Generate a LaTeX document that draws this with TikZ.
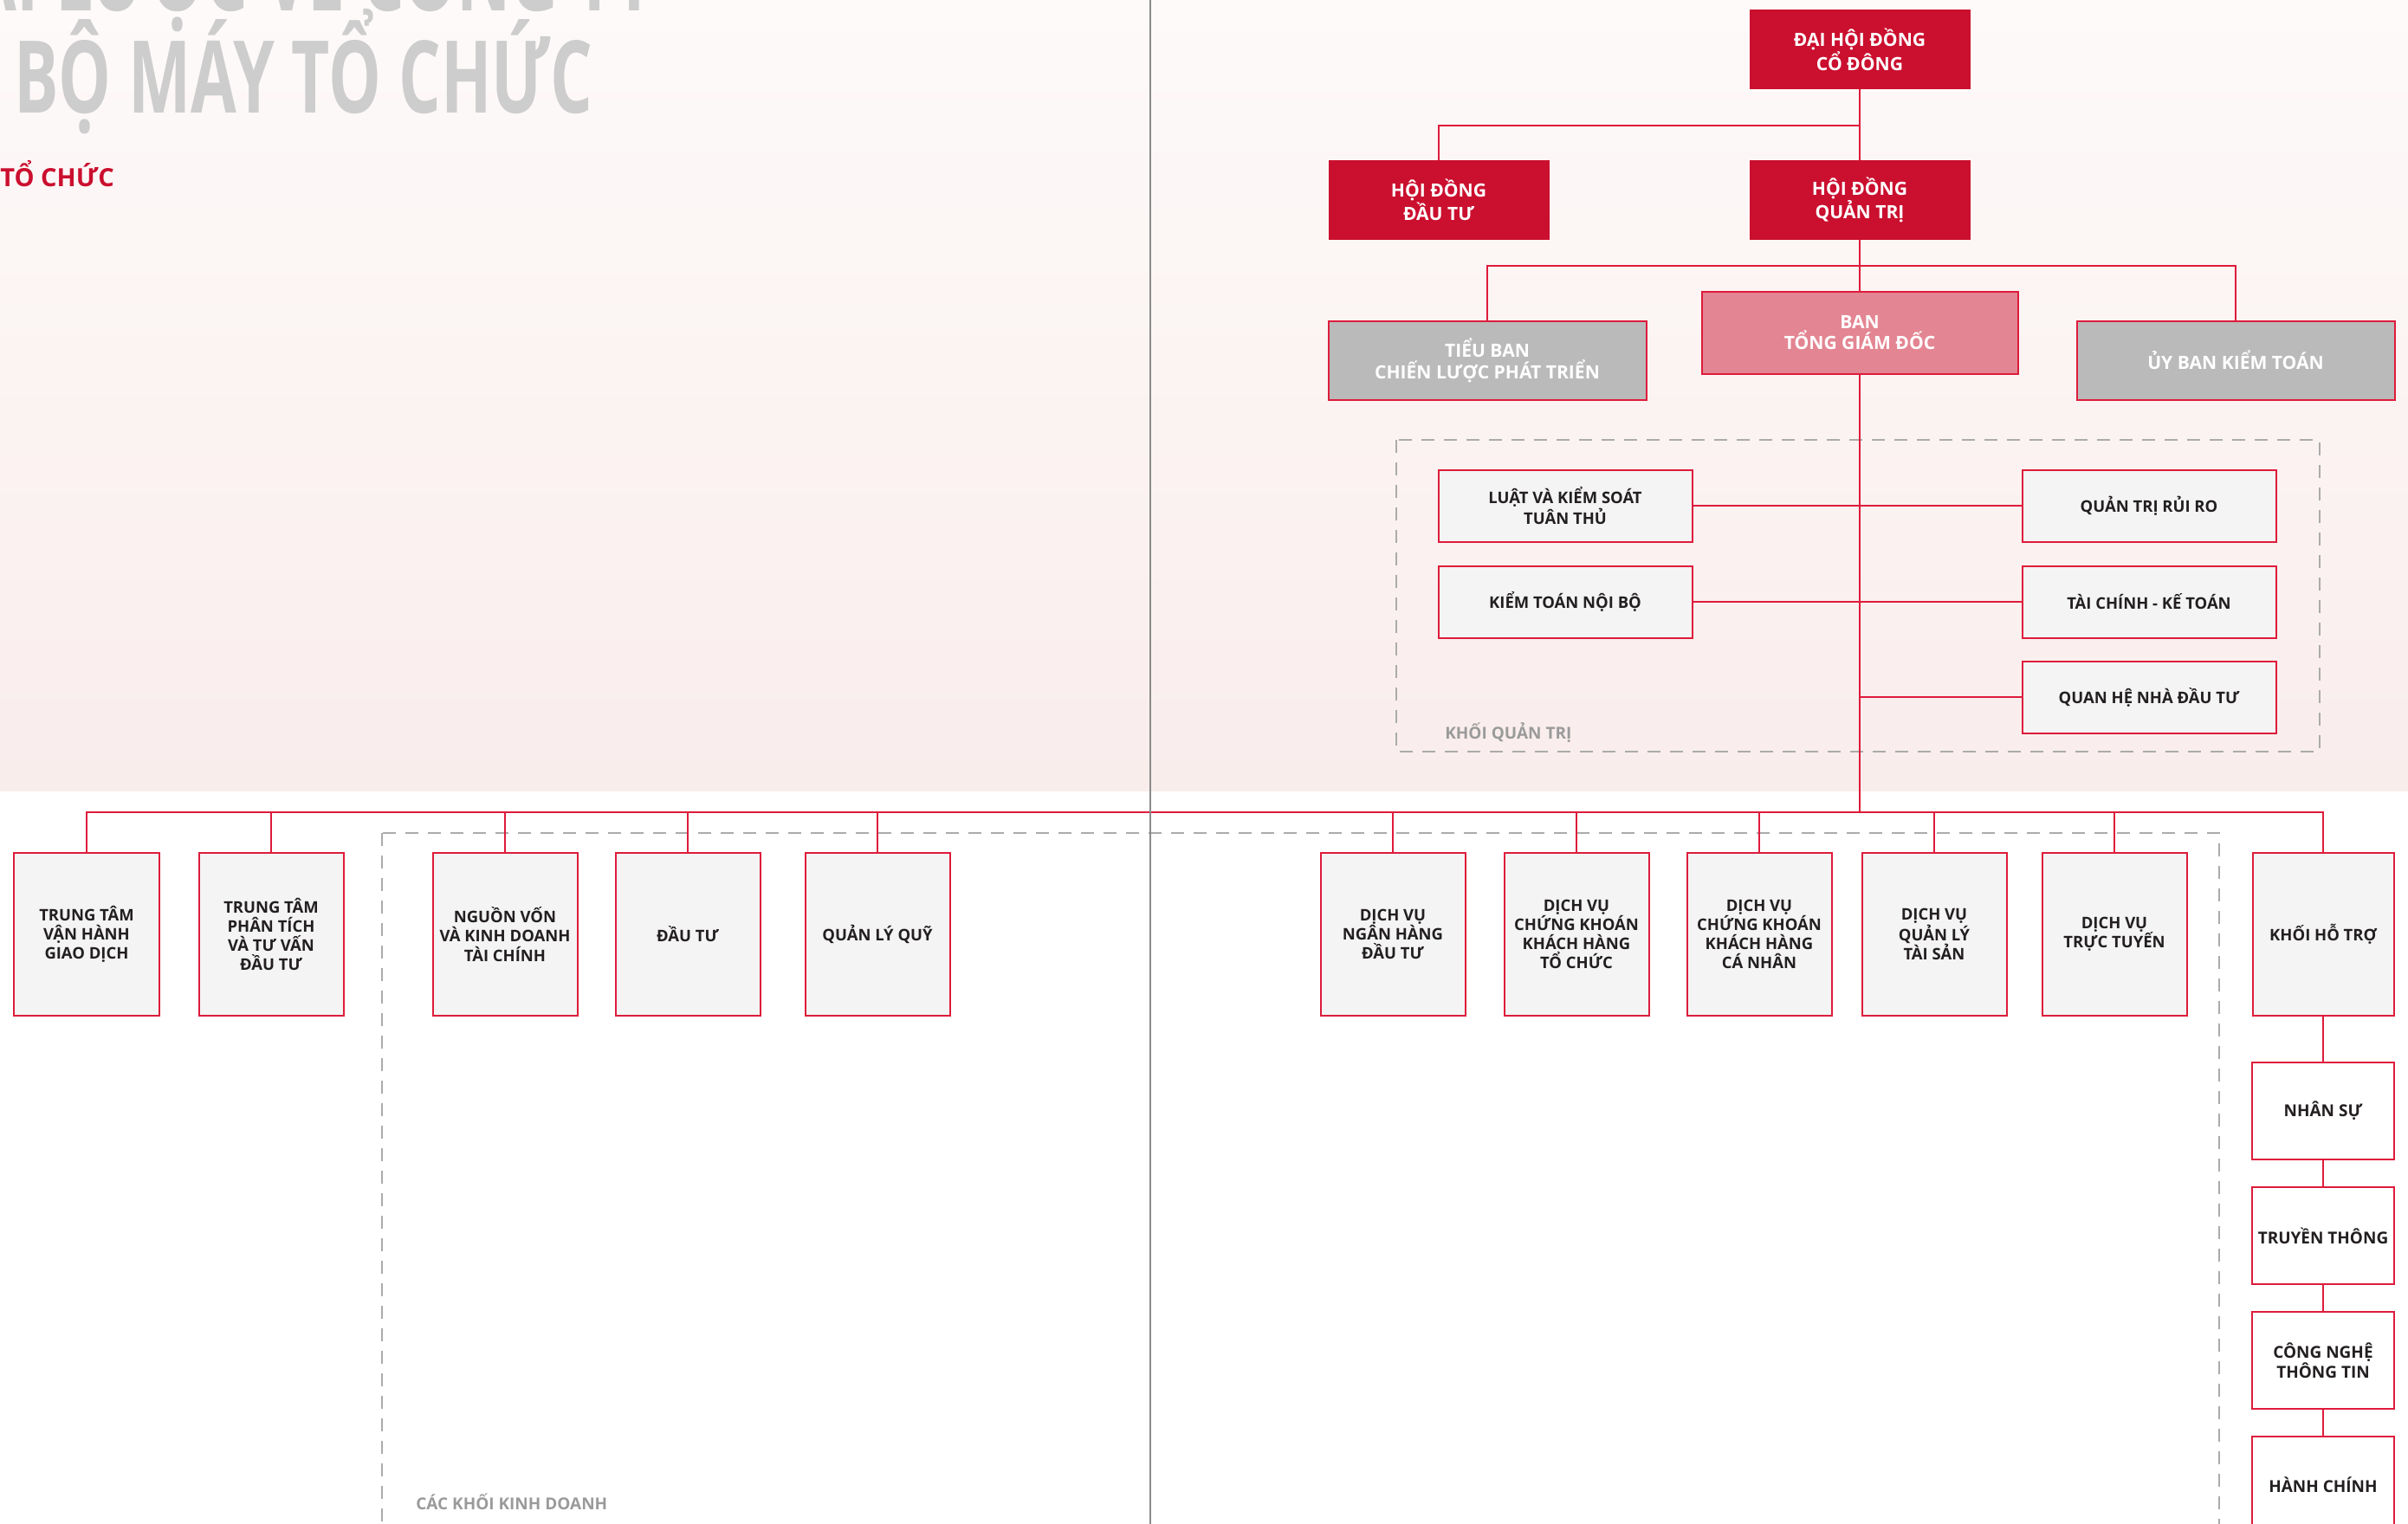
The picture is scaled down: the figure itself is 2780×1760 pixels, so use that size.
\documentclass[tikz,border=0pt]{standalone}
\usepackage{fontspec}
\setmainfont{Open Sans}
\newfontfamily\titlefont[FakeStretch=0.66]{Open Sans}
\usepackage{xcolor}
\usepackage{tikz}
\usetikzlibrary{positioning}

\definecolor{bvred}{HTML}{CB0F2F}
\definecolor{bvline}{HTML}{DE1B3B}
\definecolor{bvpink}{HTML}{E38592}
\definecolor{bvgray}{HTML}{BABABA}
\definecolor{bvlight}{HTML}{F3F4F3}
\definecolor{bvtext}{HTML}{231F20}
\definecolor{bvdash}{HTML}{ABABAB}
\definecolor{bvtitle}{HTML}{CDCDCD}
\definecolor{bvlabel}{HTML}{9A9A9A}
\definecolor{bvsep}{HTML}{8A8A8A}
\definecolor{bvbgtop}{HTML}{FDFAF9}
\definecolor{bvbgbot}{HTML}{F9EDEC}

\begin{document}
\begin{tikzpicture}[
    x=0.2mm, y=-0.2mm,
    redbox/.style={fill=bvred, text=white, align=center, inner sep=0pt,
      minimum width=51mm, minimum height=18.4mm, font=\bfseries\fontsize{12}{14}\selectfont},
    pinkbox/.style={redbox, fill=bvpink, draw=bvline, line width=0.4mm, minimum width=73mm, minimum height=19mm},
    graybox/.style={redbox, fill=bvgray, draw=bvline, line width=0.4mm, minimum width=73.4mm, minimum height=18.2mm},
    govbox/.style={draw=bvline, line width=0.4mm, fill=bvlight, text=bvtext, align=center, inner sep=0pt,
      minimum width=58.6mm, minimum height=16.6mm, font=\bfseries\fontsize{10.5}{12.6}\selectfont},
    unitbox/.style={govbox, minimum width=33.4mm, minimum height=37.6mm},
    supbox/.style={govbox, fill=white, minimum width=32.8mm, minimum height=22.4mm,
      font=\bfseries\fontsize{10.8}{12.8}\selectfont},
    link/.style={draw=bvline, line width=0.3mm},
    bus/.style={draw=bvline, line width=0.4mm},
    zone/.style={draw=bvdash, line width=0.35mm, dash pattern=on 3mm off 2.2mm},
    zonelabel/.style={text=bvlabel, inner sep=0pt, font=\bfseries\fontsize{10.8}{12}\selectfont},
    heading/.style={text=bvtitle, inner sep=0pt, font=\titlefont\bfseries\fontsize{66}{66}\selectfont}
  ]
    \useasboundingbox (0,0) rectangle (2780,1760);
    \clip (0,0) rectangle (2780,1760);

    %% ---- Page background and headings ----
    \shade[top color=bvbgtop, bottom color=bvbgbot] (0,0) rectangle (2780,913);
    \node[heading, anchor=base east] (hd1) at (757,12) {KHÁI LƯỢC VỀ CÔNG TY};
    \node[heading, anchor=base west] (hd2) at (16,130) {BỘ MÁY TỔ CHỨC};
    \node[anchor=base west, text=bvred, inner sep=0pt, font=\bfseries\fontsize{16.5}{18}\selectfont] (hd3) at (0,215) {TỔ CHỨC};

    %% ---- Governing bodies ----
    \node[redbox] (dh) at (2147,57) {ĐẠI HỘI ĐỒNG\\CỔ ĐÔNG};
    \node[redbox] (hddt) at (1661,231) {HỘI ĐỒNG\\ĐẦU TƯ};
    \node[redbox] (hdqt) at (2147,231) {HỘI ĐỒNG\\QUẢN TRỊ};
    \node[graybox] (tb) at (1717,416) {TIỂU BAN\\CHIẾN LƯỢC PHÁT TRIỂN};
    \node[pinkbox] (tgd) at (2147,384) {BAN\\TỔNG GIÁM ĐỐC};
    \node[graybox] (ubkt) at (2581,416) {ỦY BAN KIỂM TOÁN};

    \coordinate (j1) at (2147,145);
    \coordinate (j2) at (2147,307);
    \draw[link] (dh) -- (hdqt);
    \draw[link] (j1) -| (hddt);
    \draw[link] (hdqt) -- (tgd);
    \draw[link] (tb) |- (j2) -| (ubkt);

    %% ---- Khoi quan tri ----
    \draw[zone] (1612,508) rectangle (2678,868);
    \node[govbox] (luat) at (1807,584) {LUẬT VÀ KIỂM SOÁT\\TUÂN THỦ};
    \node[govbox] (ktnb) at (1807,695) {KIỂM TOÁN NỘI BỘ};
    \node[govbox] (qtrr) at (2481,584) {QUẢN TRỊ RỦI RO};
    \node[govbox] (tckt) at (2481,695) {TÀI CHÍNH - KẾ TOÁN};
    \node[govbox] (qhnd) at (2481,805) {QUAN HỆ NHÀ ĐẦU TƯ};
    \node[zonelabel, anchor=west] (kqt) at (1668,846) {KHỐI QUẢN TRỊ};

    \coordinate (j3) at (2147,805);
    \draw[link] (luat) -- (qtrr);
    \draw[link] (ktnb) -- (tckt);
    \draw[link] (j3) -- (qhnd);

    %% ---- Business units ----
    \draw[zone] (441,962) rectangle (2562,1800);
    \node[zonelabel, anchor=west] (kkd) at (480,1734) {CÁC KHỐI KINH DOANH};

    \node[unitbox] (ttvh) at (100,1079) {TRUNG TÂM\\VẬN HÀNH\\GIAO DỊCH};
    \node[unitbox] (ttpt) at (313,1079) {TRUNG TÂM\\PHÂN TÍCH\\VÀ TƯ VẤN\\ĐẦU TƯ};
    \node[unitbox] (nv) at (583,1079) {NGUỒN VỐN\\VÀ KINH DOANH\\TÀI CHÍNH};
    \node[unitbox] (dt) at (794,1079) {ĐẦU TƯ};
    \node[unitbox] (qlq) at (1013,1079) {QUẢN LÝ QUỸ};
    \node[unitbox] (nhdt) at (1608,1079) {DỊCH VỤ\\NGÂN HÀNG\\ĐẦU TƯ};
    \node[unitbox] (cktc) at (1820,1079) {DỊCH VỤ\\CHỨNG KHOÁN\\KHÁCH HÀNG\\TỔ CHỨC};
    \node[unitbox] (ckcn) at (2031,1079) {DỊCH VỤ\\CHỨNG KHOÁN\\KHÁCH HÀNG\\CÁ NHÂN};
    \node[unitbox] (qlts) at (2233,1079) {DỊCH VỤ\\QUẢN LÝ\\TÀI SẢN};
    \node[unitbox] (dvtt) at (2441,1079) {DỊCH VỤ\\TRỰC TUYẾN};
    \node[unitbox, minimum width=32.6mm] (khht) at (2682,1079) {KHỐI HỖ TRỢ};

    %% support functions stacked under Khoi ho tro
    \node[supbox, below=10.4mm of khht] (ns) {NHÂN SỰ};
    \node[supbox, below=6mm of ns] (tt) {TRUYỀN THÔNG};
    \node[supbox, below=6mm of tt] (cntt) {CÔNG NGHỆ\\THÔNG TIN};
    \node[supbox, below=6mm of cntt] (hc) {HÀNH CHÍNH};

    \coordinate (j4) at (2147,938);
    \coordinate (busR) at (2682,938);
    \draw[link] (tgd) -- (j4);
    \draw[bus] (ttvh) |- (busR) -- (khht);
    \foreach \u in {ttpt,nv,dt,qlq,nhdt,cktc,ckcn,qlts,dvtt}
      \draw[link] (\u) -- (\u |- busR);
    \draw[link] (khht) -- (ns) -- (tt) -- (cntt) -- (hc);

    %% ---- Page fold ----
    \draw[draw=bvsep, line width=0.45mm] (1328,0) -- (1328,1760);
\end{tikzpicture}
\end{document}
